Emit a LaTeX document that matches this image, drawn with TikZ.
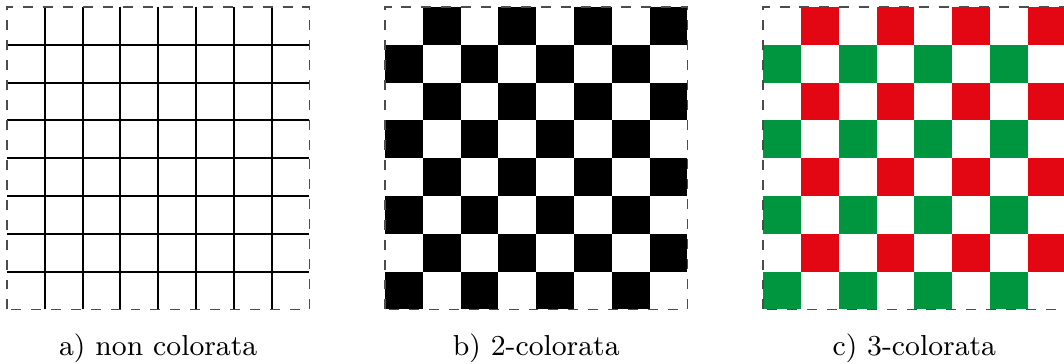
\documentclass[tikz,border=0pt]{standalone}
\definecolor{rosso}{RGB}{227,6,19}
\definecolor{verde}{RGB}{0,150,64}
\begin{document}
\begin{tikzpicture}[
    x=0.4cm, y=0.4cm,
    bordo/.style={draw=black!70, dashed, line width=0.4pt},
    griglia/.style={draw=black, line width=0.6pt},
    didascalia/.style={anchor=base, font=\fontsize{8.7}{10}\selectfont}
]
    \useasboundingbox (-0.185,-1.418) rectangle (27.96,8.185);

    % a) non colorata
    \foreach \i in {1,...,7} {
        \draw[griglia] (\i,0) -- (\i,8);
        \draw[griglia] (0,\i) -- (8,\i);
    }
    \draw[bordo] (0,0) rectangle (8,8);
    \node[didascalia] (capa) at (4,-1.23) {a) non colorata};

    % b) 2-colorata
    \foreach \r in {0,...,7} {
        \foreach \c in {0,...,7} {
            \pgfmathparse{int(mod(\r+\c,2))}
            \ifnum\pgfmathresult=1
                \fill[black] (10+\c,7-\r) rectangle ++(1,1);
            \fi
        }
    }
    \draw[bordo] (10,0) rectangle (18,8);
    \node[didascalia] (capb) at (14,-1.23) {b) 2-colorata};

    % c) 3-colorata
    \foreach \r in {0,...,7} {
        \foreach \c in {0,...,7} {
            \pgfmathparse{int(mod(\r+\c,2))}
            \ifnum\pgfmathresult=1
                \pgfmathparse{int(mod(\r,2))}
                \ifnum\pgfmathresult=0
                    \fill[rosso] (20+\c,7-\r) rectangle ++(1,1);
                \else
                    \fill[verde] (20+\c,7-\r) rectangle ++(1,1);
                \fi
            \fi
        }
    }
    \draw[bordo] (20,0) rectangle (28,8);
    \node[didascalia] (capc) at (24,-1.23) {c) 3-colorata};
\end{tikzpicture}
\end{document}
